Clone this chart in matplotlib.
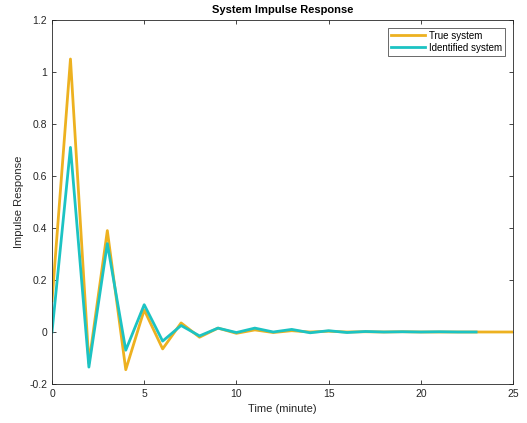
import matplotlib
matplotlib.use("Agg")
import matplotlib.pyplot as plt
import numpy as np

plt.rcParams['font.family'] = ['Liberation Sans', 'DejaVu Sans']

# impulse response samples, one per minute
t_true = np.arange(0, 26)
h_true = [0.12, 1.05, -0.12, 0.39, -0.145, 0.085, -0.065, 0.035, -0.02, 0.015,
          -0.005, 0.008, -0.002, 0.005, 0.0, 0.003, 0.0, 0.001, 0.0, 0.001,
          0.0, 0.0, 0.0, 0.0, 0.0, 0.0]
t_id = np.arange(0, 24)
h_id = [0.0, 0.71, -0.135, 0.34, -0.07, 0.105, -0.035, 0.025, -0.015, 0.015,
        -0.002, 0.015, 0.0, 0.01, -0.003, 0.005, -0.002, 0.002, 0.0, 0.001,
        0.0, 0.001, 0.0, 0.0]

fig = plt.figure(figsize=(5.27, 4.23), dpi=100)
ax = fig.add_axes([0.0987, 0.0922, 0.8747, 0.8605])
ax.plot(t_true, h_true, color='#EDB120', lw=2, label='True system')
ax.plot(t_id, h_id, color='#1CC3C3', lw=2, label='Identified system')
ax.set_xlim(0, 25)
ax.set_ylim(-0.2, 1.2)
ax.set_xticks([0, 5, 10, 15, 20, 25])
ax.set_yticks([-0.2, 0, 0.2, 0.4, 0.6, 0.8, 1, 1.2])
ax.set_yticklabels(['-0.2', '0', '0.2', '0.4', '0.6', '0.8', '1', '1.2'])
ax.tick_params(direction='in', top=True, right=True, labelsize=7.5,
               colors='#262626', length=3, width=0.6)
for s in ax.spines.values():
    s.set_color('#262626')
    s.set_linewidth(0.6)
ax.set_xlabel('Time (minute)', fontsize=8, color='#262626')
ax.set_ylabel('Impulse Response', fontsize=8, color='#262626')
ax.set_title('System Impulse Response', fontsize=8, fontweight='bold', pad=5)
lgd = ax.legend(loc='upper right', fontsize=7, frameon=True, fancybox=False,
                edgecolor='#262626', borderpad=0.3, labelspacing=0.2,
                handlelength=3.5, handletextpad=0.4, borderaxespad=0.8)
lgd.get_frame().set_linewidth(0.6)
fig.savefig('out.png', dpi=100)
plt.close('all')
